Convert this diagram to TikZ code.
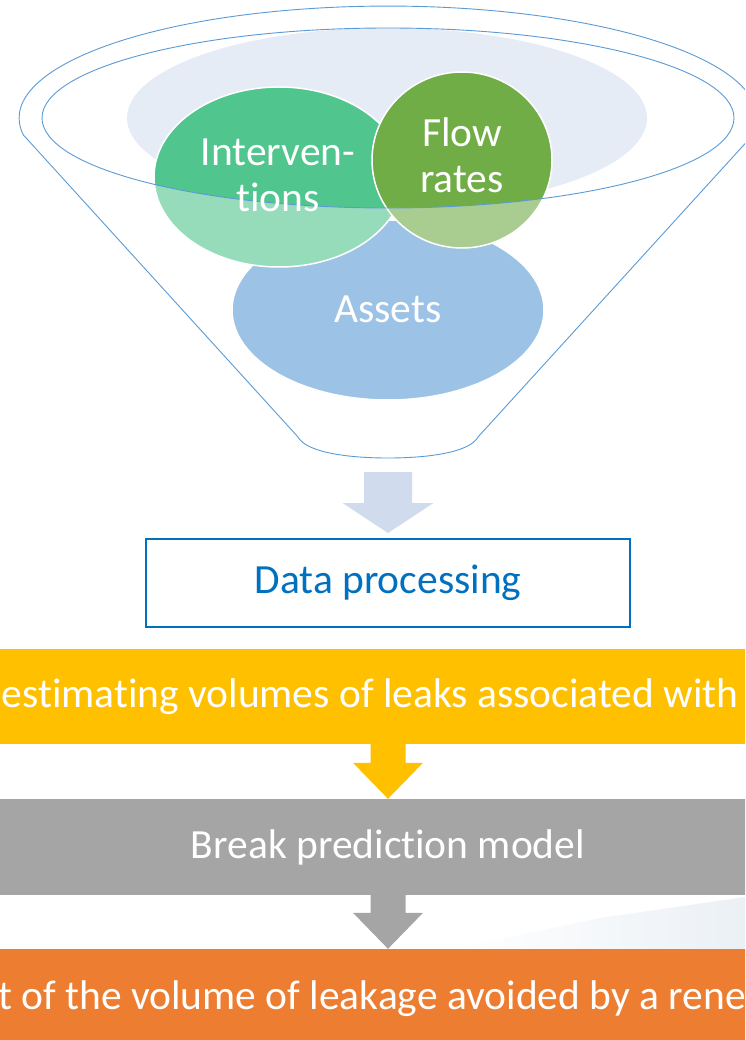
\documentclass[tikz,border=0pt]{standalone}
\usepackage{fontspec}
\setmainfont{Carlito}[Ligatures={NoCommon,NoContextual}]
\usetikzlibrary{shapes.geometric,calc}
\definecolor{funnelblue}{HTML}{5B9BD5}
\definecolor{rimfill}{HTML}{E6ECF6}
\definecolor{intgreen}{HTML}{50C58E}
\definecolor{flowgreen}{HTML}{70AD47}
\definecolor{assetblue}{HTML}{5B9BD5}
\definecolor{dpblue}{HTML}{0070C0}
\definecolor{arrowblue}{HTML}{D0DCEE}
\definecolor{bandyellow}{HTML}{FFC000}
\definecolor{bandgray}{HTML}{A5A5A5}
\definecolor{bandorange}{HTML}{ED7D31}
\definecolor{texturegray}{HTML}{EBF0F5}
\begin{document}
\begin{tikzpicture}[x=1pt,y=-1pt,
  bigtext/.style={font=\fontsize{41.5}{46}\selectfont},
  bubble/.style={ellipse, draw=white, line width=1.5pt, inner sep=0pt},
  bubbletext/.style={text=white, bigtext, align=center, inner sep=0pt},
  funnelline/.style={draw=funnelblue, line width=0.9pt},
  band/.style={rectangle, minimum width=820pt, minimum height=95pt, text=white, bigtext, inner sep=0pt},
  dpbox/.style={rectangle, draw=dpblue, line width=2pt, text=dpblue, bigtext, minimum width=484pt, minimum height=88pt, inner sep=0pt},
  veil/.style={fill=white, fill opacity=0.4, even odd rule},
]
\useasboundingbox (0,0) rectangle (745,1040);
\clip (0,0) rectangle (745,1040);
\fill[white] (0,0) rectangle (745,1040);

% funnel contents
\fill[rimfill] (387,118) ellipse [x radius=260, y radius=90];
\node[bubble, fill=assetblue, minimum width=312pt, minimum height=180pt] (assets) at (388,310) {};
\node[bubble, fill=intgreen, minimum width=250pt, minimum height=180pt] (interv) at (279,177) {};
\node[bubble, fill=flowgreen, minimum width=180pt, minimum height=176pt] (flow) at (462,160) {};

% translucent front of the funnel
\fill[veil] (23.4,135) arc[start angle=171.3, end angle=368.7, x radius=369, y radius=112]
  -- (478,437) .. controls (470,452) and (430,458) .. (388,458)
  .. controls (346,458) and (306,452) .. (298,437) -- cycle
  (388,118) ellipse [x radius=346, y radius=90];

% funnel outline
\draw[funnelline] (23.4,135) arc[start angle=171.3, end angle=368.7, x radius=369, y radius=112]
  -- (478,437) .. controls (470,452) and (430,458) .. (388,458)
  .. controls (346,458) and (306,452) .. (298,437) -- cycle;
\draw[funnelline] (388,118) ellipse [x radius=346, y radius=90];

% bubble labels
\node[bubbletext] (assetslabel) at ($(assets.center)+(0,-1)$) {Assets};
\node[bubbletext] (intervlabel) at ($(interv.center)+(-1,-2)$) {Interven-\\tions};
\node[bubbletext] (flowlabel) at ($(flow.center)+(0,-5)$) {Flow\\rates};

% data processing
\coordinate (fb) at (388,472);
\node[dpbox] (dp) at (388,583) {Data processing};
\fill[arrowblue] ($(fb)+(-24,0)$) -- ($(fb)+(24,0)$) -- ($(fb)+(24,31)$) -- ($(fb)+(45.5,31)$)
  -- ($(dp.north)+(0,-5)$) -- ($(fb)+(-45.5,31)$) -- ($(fb)+(-24,31)$) -- cycle;

% background texture
\shade[left color=white, right color=texturegray] (455,949) -- (600,918) -- (745,897) -- (745,949) -- cycle;

% bands
\node[band, fill=bandyellow] (est) at (370,696.5) {estimating volumes of leaks associated with};
\node[band, fill=bandgray, minimum height=96pt] (pred) at (388,847) {Break prediction model};
\node[band, fill=bandorange, minimum height=100pt] (avoid) at (372,999) {t of the volume of leakage avoided by a rene};

% band arrows
\fill[bandyellow] ($(est.south -| pred.north)+(-17.5,-1)$) -- ($(est.south -| pred.north)+(17.5,-1)$)
  -- ($(pred.north)+(17.5,-36)$) -- ($(pred.north)+(35,-36)$) -- (pred.north)
  -- ($(pred.north)+(-35,-36)$) -- ($(pred.north)+(-17.5,-36)$) -- cycle;
\fill[bandgray] ($(pred.south)+(-17.5,-1)$) -- ($(pred.south)+(17.5,-1)$)
  -- ($(avoid.north -| pred.south)+(17.5,-36)$) -- ($(avoid.north -| pred.south)+(35,-36)$) -- (avoid.north -| pred.south)
  -- ($(avoid.north -| pred.south)+(-35,-36)$) -- ($(avoid.north -| pred.south)+(-17.5,-36)$) -- cycle;
\end{tikzpicture}
\end{document}
